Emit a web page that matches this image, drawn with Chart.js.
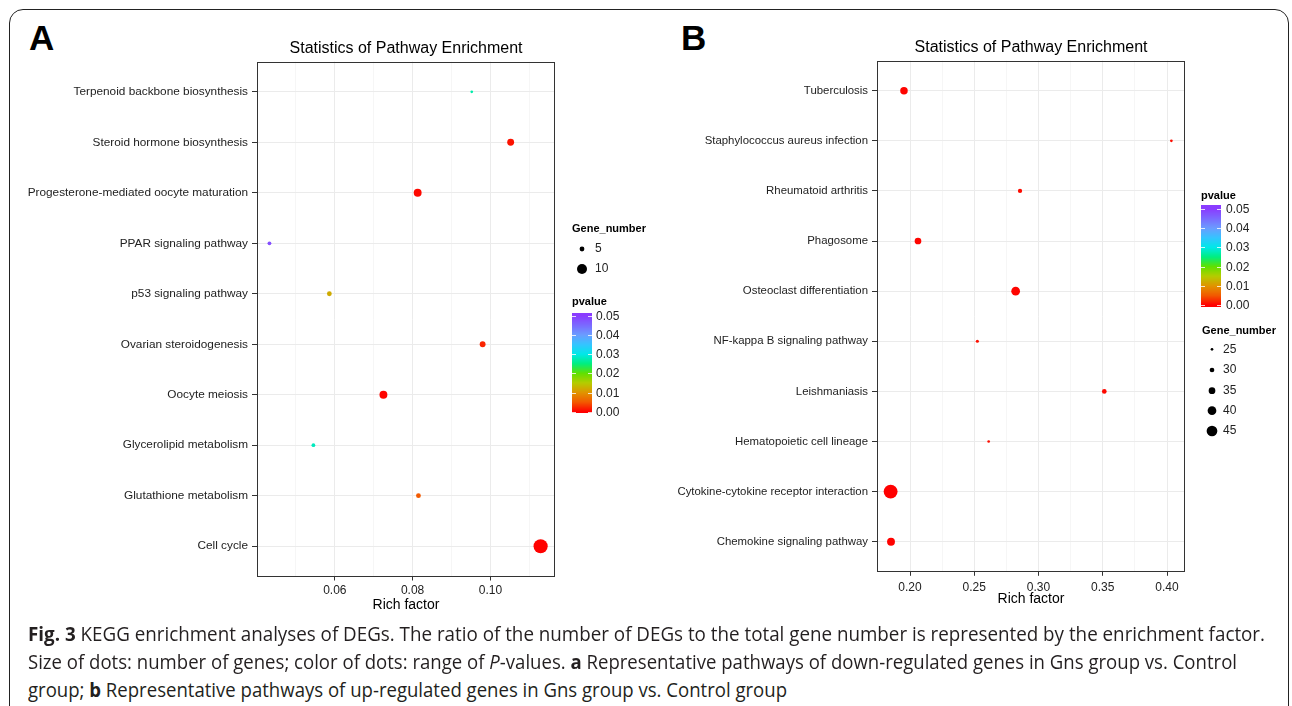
<!DOCTYPE html>
<html>
<head>
<meta charset="utf-8">
<script src="https://cdn.jsdelivr.net/npm/chart.js@4.4.1/dist/chart.umd.min.js"></script>
<style>
  body { margin: 0; background: #fff; width: 1292px; height: 706px; overflow: hidden; position: relative; }
  #frame { position: absolute; left: 9px; top: 9px; width: 1280px; height: 712px; box-sizing: border-box;
           border: 1.5px solid #222; border-radius: 14px; }
  .panel { position: absolute; top: 18px; font: bold 35px "Liberation Sans", Arial, sans-serif; color: #000; }
  canvas { position: absolute; }
  .cap { position: absolute; left: 28px; font: 19.5px "Open Sans", sans-serif; color: #231f20;
         white-space: nowrap; line-height: 28px; transform-origin: 0 50%; }
</style>
</head>
<body>
<div id="frame"></div>
<div class="panel" style="left:29px">A</div>
<div class="panel" style="left:681px">B</div>
<canvas id="chartA" width="660" height="605" style="left:0;top:20px"></canvas>
<canvas id="chartB" width="632" height="605" style="left:660px;top:20px"></canvas>
<div class="cap" data-w="1237" style="top:620px"><b>Fig. 3</b> KEGG enrichment analyses of DEGs. The ratio of the number of DEGs to the total gene number is represented by the enrichment factor.</div>
<div class="cap" data-w="1209" style="top:648px">Size of dots: number of genes; color of dots: range of <i>P</i>-values. <b>a</b> Representative pathways of down-regulated genes in Gns group vs. Control</div>
<div class="cap" data-w="759" style="top:676px">group; <b>b</b> Representative pathways of up-regulated genes in Gns group vs. Control group</div>
<script>
// panel A: down-regulated (bottom to top, as in ggplot)
const pathwaysA = ['Cell cycle', 'Glutathione metabolism', 'Glycerolipid metabolism', 'Oocyte meiosis',
  'Ovarian steroidogenesis', 'p53 signaling pathway', 'PPAR signaling pathway',
  'Progesterone-mediated oocyte maturation', 'Steroid hormone biosynthesis', 'Terpenoid backbone biosynthesis'];
const richA  = [0.1129, 0.0815, 0.0545, 0.0725, 0.0980, 0.0586, 0.0432, 0.0813, 0.1052, 0.0952];
const pvalA  = [0.0001, 0.005, 0.028, 0.0003, 0.002, 0.012, 0.048, 0.0005, 0.001, 0.027];
const genesA = [14, 5, 4, 8, 6, 5, 4, 8, 7, 3];

// panel B: up-regulated
const pathwaysB = ['Chemokine signaling pathway', 'Cytokine-cytokine receptor interaction', 'Hematopoietic cell lineage',
  'Leishmaniasis', 'NF-kappa B signaling pathway', 'Osteoclast differentiation', 'Phagosome',
  'Rheumatoid arthritis', 'Staphylococcus aureus infection', 'Tuberculosis'];
const richB  = [0.1852, 0.1849, 0.2612, 0.3512, 0.2524, 0.2822, 0.2062, 0.2856, 0.4034, 0.1953];
const pvalB  = [0.0001, 0.00001, 0.0008, 0.0005, 0.0009, 0.0002, 0.0003, 0.0006, 0.0007, 0.0002];
const genesB = [38, 53, 25, 30, 26, 40, 35, 29, 25, 37];

const ticksA = [0.06, 0.08, 0.10];
const minorA = [0.05, 0.07, 0.09, 0.11];
const ticksB = [0.20, 0.25, 0.30, 0.35, 0.40];
const minorB = [0.225, 0.275, 0.325, 0.375];
const legendGenesA = [5, 10];
const legendGenesB = [25, 30, 35, 40, 45];
const pTicks = [0, 0.01, 0.02, 0.03, 0.04, 0.05];

const FONT = '"Liberation Sans", Arial, sans-serif';
Chart.defaults.font.family = FONT;

// colour scale of the p-value bar
const pStops = [[0, '#ff0000'], [0.005, '#f25a00'], [0.01, '#e09400'], [0.015, '#b4cc00'], [0.02, '#60e000'],
  [0.025, '#00ee80'], [0.03, '#00e8e8'], [0.035, '#34c4ff'], [0.04, '#6a9cff'], [0.045, '#7a6aff'], [0.05, '#8a3cff']];
function hex(h) { return [1, 3, 5].map(i => parseInt(h.substr(i, 2), 16)); }
function pColor(v) {
  v = Math.max(0, Math.min(0.05, v));
  for (let i = 1; i < pStops.length; i++) {
    if (v <= pStops[i][0]) {
      const [v0, c0] = pStops[i - 1], [v1, c1] = pStops[i];
      const t = (v - v0) / (v1 - v0), a = hex(c0), b = hex(c1);
      return 'rgb(' + a.map((x, k) => Math.round(x + (b[k] - x) * t)).join(',') + ')';
    }
  }
  return pStops[pStops.length - 1][1];
}

const sizeA = n => 0.52 * n - 0.2;
const sizeB = n => 0.2 * n - 3.65;

function decor(cfg) {
  return {
    id: 'decor',
    afterDraw(chart) {
      const ctx = chart.ctx, a = chart.chartArea;
      ctx.save();
      ctx.strokeStyle = '#333';
      ctx.lineWidth = 1;
      ctx.strokeRect(Math.round(a.left) + 0.5, Math.round(a.top) + 0.5,
        Math.round(a.right - a.left) - 1, Math.round(a.bottom - a.top) - 1);
      ctx.translate(-cfg.ox, -cfg.oy);
      ctx.textAlign = 'left';
      ctx.textBaseline = 'middle';

      // size legend
      const S = cfg.sizeLeg;
      ctx.fillStyle = '#000';
      ctx.font = 'bold 11px ' + FONT;
      ctx.fillText('Gene_number', S.x, S.titleY);
      ctx.font = '12px ' + FONT;
      cfg.legGenes.forEach((g, i) => {
        ctx.fillStyle = '#000';
        ctx.beginPath();
        ctx.arc(S.dotX, S.ys[i], cfg.size(g), 0, Math.PI * 2);
        ctx.fill();
        ctx.fillStyle = '#222';
        ctx.fillText(String(g), S.labelX, S.ys[i]);
      });

      // colour bar
      const C = cfg.bar;
      ctx.fillStyle = '#000';
      ctx.font = 'bold 11px ' + FONT;
      ctx.fillText('pvalue', C.x, C.titleY);
      for (let y = C.top; y < C.bottom; y++) {
        const v = (C.y0 - (y + 0.5)) / (C.y0 - C.y5) * 0.05;
        ctx.fillStyle = pColor(v);
        ctx.fillRect(C.x, y, C.w, 1);
      }
      ctx.font = '12px ' + FONT;
      pTicks.forEach(v => {
        const y = Math.round(C.y0 - v / 0.05 * (C.y0 - C.y5)) + 0.5;
        ctx.strokeStyle = 'rgba(255,255,255,0.8)';
        ctx.beginPath();
        ctx.moveTo(C.x, y); ctx.lineTo(C.x + 4, y);
        ctx.moveTo(C.x + C.w - 4, y); ctx.lineTo(C.x + C.w, y);
        ctx.stroke();
        ctx.fillStyle = '#222';
        ctx.fillText(v.toFixed(2), C.labelX, y);
      });
      ctx.restore();
    }
  };
}

function makeChart(id, cfg) {
  const n = cfg.paths.length;
  return new Chart(document.getElementById(id), {
    type: 'bubble',
    data: {
      datasets: [{
        data: cfg.paths.map((p, i) => ({ x: cfg.rich[i], y: i + 1, r: cfg.size(cfg.genes[i]) })),
        backgroundColor: cfg.pval.map(pColor),
        borderWidth: 0,
        hoverRadius: 0,
        hoverBorderWidth: 0
      }]
    },
    options: {
      responsive: false,
      animation: false,
      devicePixelRatio: 1,
      events: [],
      layout: { padding: { left: 0, right: cfg.padRight, top: 0, bottom: 0 } },
      plugins: {
        legend: { display: false },
        tooltip: { enabled: false },
        title: {
          display: true, text: 'Statistics of Pathway Enrichment', fullSize: false, color: '#000',
          font: { family: FONT, size: 16, weight: 'normal' },
          padding: { top: cfg.titleTop, bottom: cfg.titleBottom }
        }
      },
      scales: {
        x: {
          type: 'linear', bounds: 'data', min: cfg.xmin, max: cfg.xmax,
          afterBuildTicks: s => { s.ticks = cfg.minor.concat(cfg.major).sort((a, b) => a - b).map(v => ({ value: v })); },
          afterFit: s => { s.height = cfg.xH; },
          ticks: {
            autoSkip: false, maxRotation: 0, padding: cfg.xTickPad, color: '#222', font: { size: 12 },
            callback: v => cfg.major.includes(v) ? v.toFixed(2) : ''
          },
          grid: {
            tickLength: 4,
            color: c => (c.tick && cfg.major.includes(c.tick.value)) ? '#ebebeb' : '#f6f6f6',
            tickColor: c => (c.tick && cfg.major.includes(c.tick.value)) ? '#333' : 'rgba(0,0,0,0)'
          },
          border: { display: false },
          title: {
            display: true, text: 'Rich factor', color: '#000', font: { size: 14 },
            padding: { top: 0, bottom: cfg.xTitlePad }
          }
        },
        y: {
          type: 'linear', bounds: 'data', min: 0.4, max: n + 0.6,
          afterBuildTicks: s => { s.ticks = cfg.paths.map((p, i) => ({ value: i + 1 })); },
          afterFit: s => { s.width = cfg.yW; },
          ticks: { autoSkip: false, padding: 4, color: '#222', font: { size: cfg.yFont }, callback: v => cfg.paths[v - 1] },
          grid: { color: '#ebebeb', tickColor: '#333', tickLength: 5 },
          border: { display: false }
        }
      }
    },
    plugins: [decor(cfg)]
  });
}

makeChart('chartA', {
  paths: pathwaysA, rich: richA, pval: pvalA, genes: genesA, size: sizeA,
  major: ticksA, minor: minorA, xmin: 0.0400, xmax: 0.1166,
  ox: 0, oy: 20, yW: 257, padRight: 105, titleTop: 19.4, titleBottom: 2.9, xH: 48.5, xTitlePad: 11.8,
  xTickPad: 3, yFont: 11.8,
  legGenes: legendGenesA,
  sizeLeg: { x: 572, titleY: 229, dotX: 582, labelX: 595, ys: [249, 269] },
  bar: { x: 572, w: 20, top: 313, bottom: 413, y0: 411.7, y5: 315.7, titleY: 302, labelX: 596 }
});

makeChart('chartB', {
  paths: pathwaysB, rich: richB, pval: pvalB, genes: genesB, size: sizeB,
  major: ticksB, minor: minorB, xmin: 0.1743, xmax: 0.414,
  ox: 660, oy: 20, yW: 217, padRight: 107, titleTop: 18.4, titleBottom: 3, xH: 53.2, xTitlePad: 17.3,
  xTickPad: 5, yFont: 11.4,
  legGenes: legendGenesB,
  sizeLeg: { x: 1202, titleY: 331, dotX: 1212, labelX: 1223, ys: [349.3, 370, 390.7, 410.7, 431] },
  bar: { x: 1201, w: 20, top: 205, bottom: 307, y0: 305, y5: 209, titleY: 196, labelX: 1226 }
});

// squeeze caption lines to the width they take in the figure
function fitCaption() {
  document.querySelectorAll('.cap').forEach(el => {
    el.style.transform = 'none';
    const w = el.getBoundingClientRect().width;
    el.style.transform = 'scaleX(' + (el.dataset.w / w) + ')';
  });
}
fitCaption();
if (document.fonts) document.fonts.ready.then(fitCaption);
</script>
</body>
</html>
